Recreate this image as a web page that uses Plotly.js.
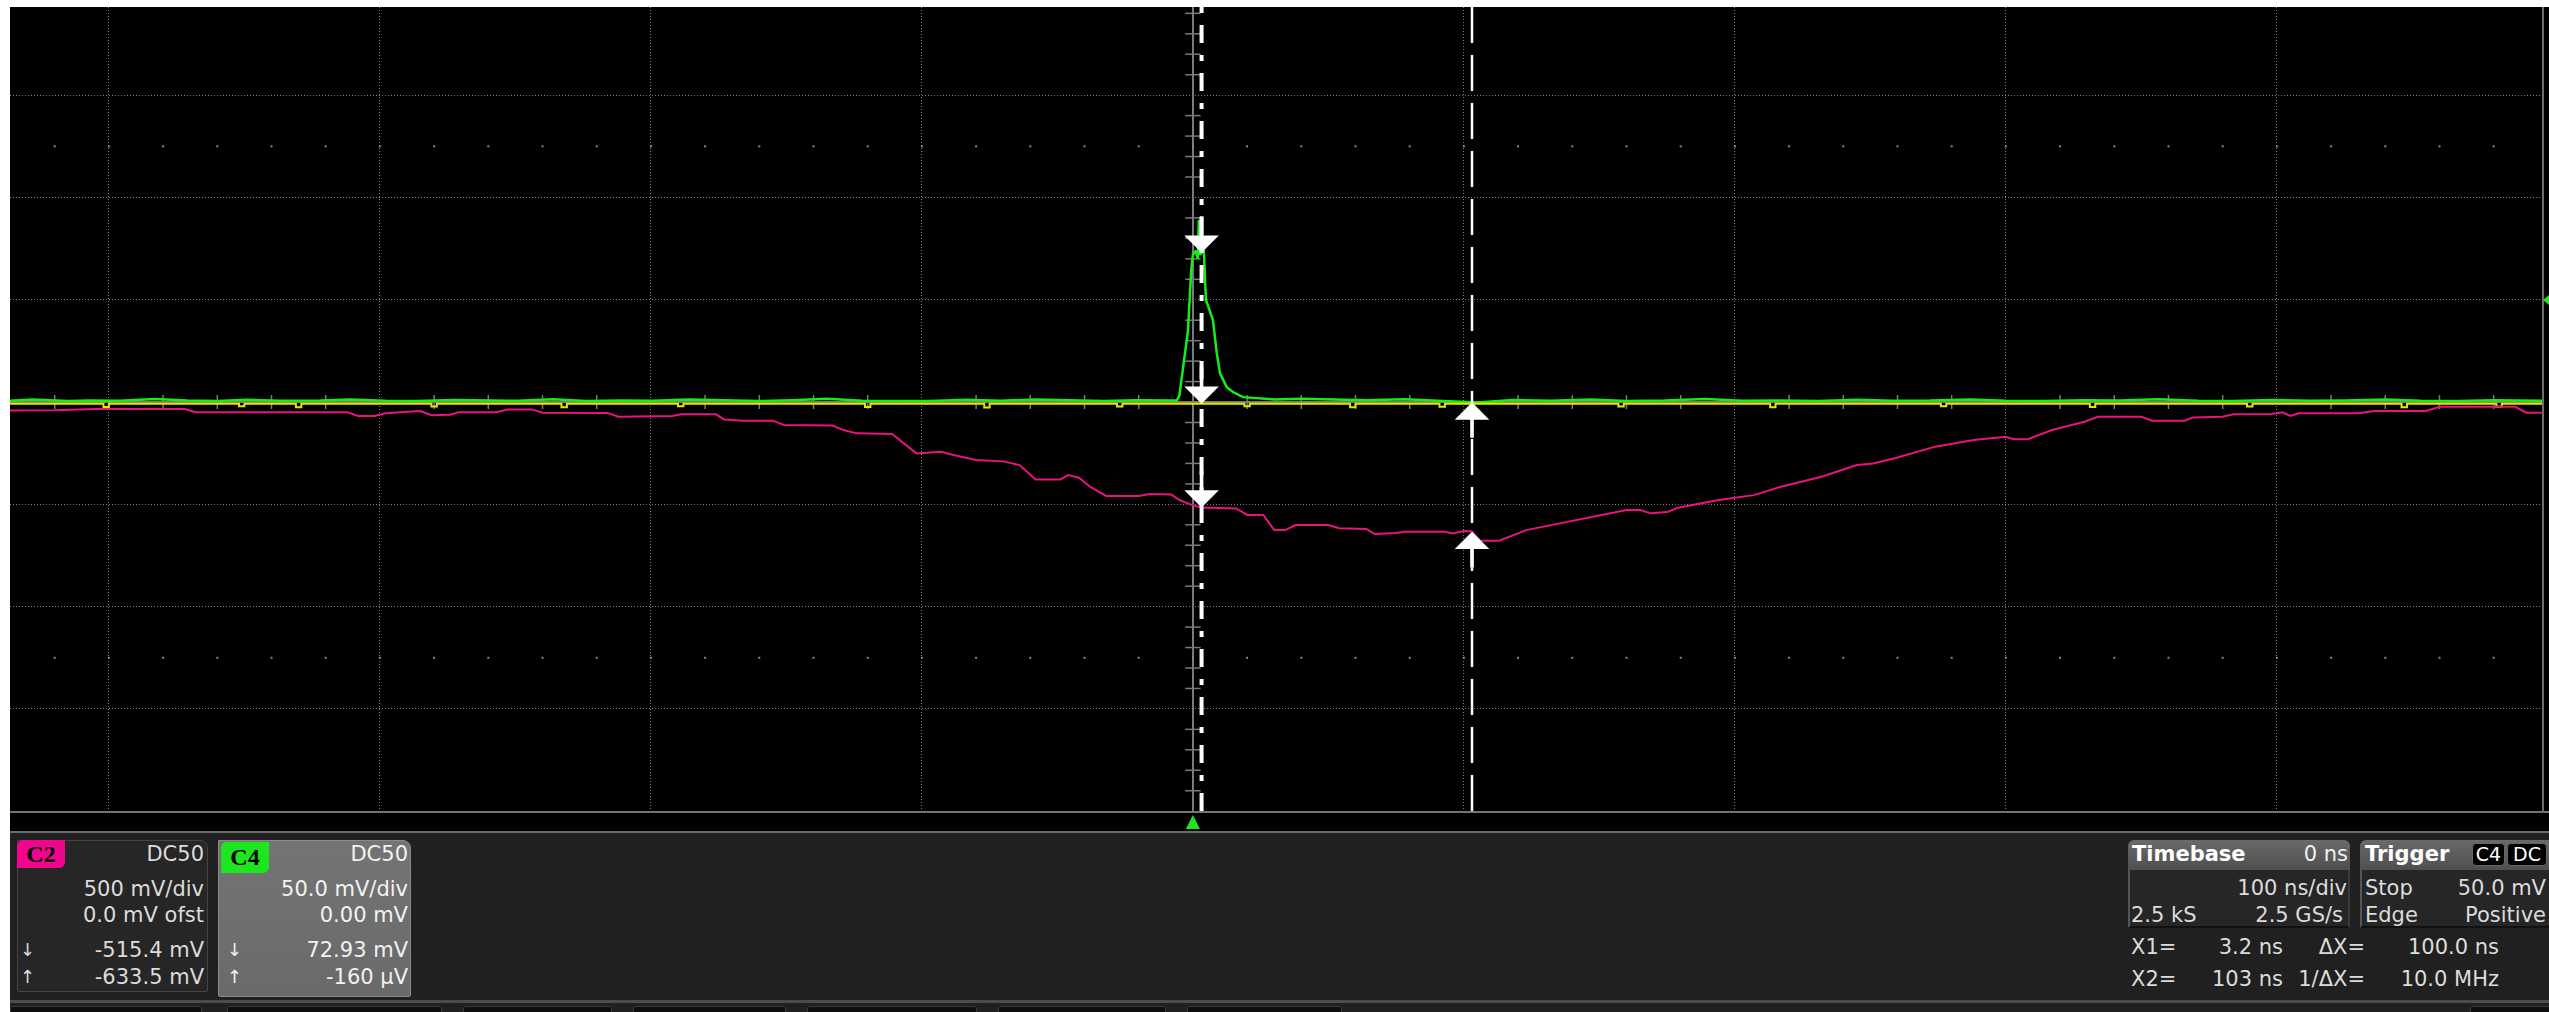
<!DOCTYPE html>
<html>
<head>
<meta charset="utf-8">
<script src="https://cdn.plot.ly/plotly-3.0.1.min.js"></script>
<style>
  html, body { margin:0; padding:0; background:#fff; width:2549px; height:1012px; overflow:hidden; }
  .abs { position:absolute; }
  #scr { left:10px; top:7px; width:2539px; height:825px; background:#000; }
  #bot { left:10px; top:832px; width:2539px; height:180px; background:#202020; }
  #plot { left:0; top:0; width:2549px; height:1012px; }
  #ov { left:0; top:0; width:2549px; height:1012px; pointer-events:none; z-index:5; }
</style>
</head>
<body>
<div id="scr" class="abs"></div>
<div id="bot" class="abs"></div>
<div id="plot" class="abs"></div>
<div id="ov" class="abs"></div>
<script>
// ---------------- DATA ----------------
// C2 (magenta), 500 mV/div, time in ns
const c2Time = [-436.5, -420, -405, -372, -368, -312, -308, -302, -298, -290, -285, -281, -274, -271, -257, -253, -244, -240, -216, -212,
  -192, -189, -176, -173, -166, -155, -151, -133, -129, -124, -111, -102, -93, -88, -80, -70, -64, -58, -49, -46, -42, -38, -32, -20, -16, -8, -5, 0, 3.2, 16, 20,
  26, 30, 34, 38, 50, 54, 64, 67, 75, 78, 93, 96, 100, 103, 106, 113, 123, 138, 148, 160, 165, 169, 175, 179, 194, 207, 217, 232, 245,
  251, 259, 274, 288, 300, 303, 308, 317, 329, 334, 350, 354, 366, 369, 380, 384, 398, 402, 405, 408, 430, 436, 455, 460, 488, 492, 498.2];
const c2mV = [-41, -40, -34, -34, -50, -50, -68, -68, -55, -48, -44, -64, -62, -50, -50, -36, -36, -52, -53, -72,
  -68, -60, -60, -85, -91, -91, -112, -115, -137, -153, -156, -251, -243, -260, -283, -290, -308, -378, -378, -357, -370, -414, -459, -459, -450, -452, -479, -505, -515, -520, -552,
  -552, -626, -626, -601, -601, -617, -620, -645, -640, -634, -634, -643, -630, -633, -678, -678, -626, -585, -561, -528, -528, -544, -538, -517, -479, -455, -414, -365, -308,
  -300, -275, -218, -186, -170, -182, -182, -137, -96, -72, -72, -91, -91, -75, -72, -60, -58, -50, -68, -55, -55, -44, -44, -23, -23, -52, -52];

// C4 (green), 50 mV/div
const c4Time = [-436.5, -428, -415, -407, -396, -383, -371, -360, -349, -337, -322, -311, -298, -286, -273, -262, -249, -236, -224, -211,
  -199, -186, -173, -160, -148, -135, -122, -109, -97, -84, -71, -58, -45, -33, -21, -12, -6,
  -5, -3.7, -1.8, -0.6, 0, 1, 1.8, 2.2, 2.6, 3.2, 4.0, 4.8, 6.3, 7.4, 8.8, 10, 12.5, 14.8, 18.5, 22, 30, 40, 52,
  64, 78, 91, 105, 118, 132, 147, 160, 174, 189, 203, 216, 231, 245, 258, 272, 287, 300, 314, 329, 342, 356, 371, 384, 398, 412, 425, 440, 453, 467, 480, 491, 498.2];
const c4mV = [0.6, 1.2, 0.5, 0.8, 0.6, 1.5, 0.7, 0.5, 1.1, 0.6, 0.8, 1.3, 0.6, 0.5, 1.0, 0.7, 0.6, 1.4, 0.5, 0.8,
  0.6, 1.2, 0.7, 0.5, 0.9, 1.6, 0.6, 0.7, 0.5, 1.1, 0.6, 1.3, 0.7, 0.5, 0.9, 0.6, 0.7,
  3, 16, 35, 65, 72, 74, 70, 89, 72, 73, 75, 50, 44, 40, 24, 14, 7.3, 4.9, 2.4, 2.0, 1.3, 1.6, 1.2,
  0.9, 1.4, 0.7, -0.2, 1.0, 0.6, 1.2, 0.5, 0.7, 1.5, 0.6, 0.8, 0.5, 1.1, 0.6, 0.7, 1.3, 0.6, 0.5, 0.9, 0.7, 1.4, 0.6, 0.5, 1.0, 0.6, 0.8, 1.2, 0.6, 0.5, 0.9, 0.7, 0.6];

// yellow trace (C1), flat baseline with small spikes
const c1Time = [-436.5, -402, -400, -352, -350, -331, -329, -281, -279, -233, -231, -190, -188, -121, -119, -77, -75, -28, -26, 19,
  21, 58, 60, 91, 93, 157, 159, 213, 215, 276, 278, 331, 333, 389, 391, 446, 448, 481, 483, 498.2];
const c1mV = [-0.8, -2.4, -0.8, -2.1, -0.8, -2.6, -0.8, -2.2, -0.8, -2.5, -0.8, -2.0, -0.8, -2.4, -0.8, -2.7, -0.8, -2.2, -0.8, -2.1,
  -0.8, -2.5, -0.8, -2.3, -0.8, -2.2, -0.8, -2.6, -0.8, -2.1, -0.8, -2.4, -0.8, -2.2, -0.8, -2.5, -0.8, -2.3, -0.8, -0.8];

// cursors (ns) and readouts
const cursorT = [3.2, 103];
const c2AtCursor = [-515.4, -633.5];
const c4AtCursor = [72.93, -0.16];
const c1AtCursor = [-0.8];

// readout panel texts
const c2Lines = ["DC50", "500 mV/div", "0.0 mV ofst", "-515.4 mV", "-633.5 mV"];
const c4Lines = ["DC50", "50.0 mV/div", "0.00 mV", "72.93 mV", "-160 µV"];
const timebaseLines = ["Timebase", "0 ns", "100 ns/div", "2.5 kS", "2.5 GS/s"];
const triggerLines = ["Trigger", "C4", "DC", "Stop", "50.0 mV", "Edge", "Positive"];
const cursorLabels = ["X1=", "3.2 ns", "ΔX=", "100.0 ns", "X2=", "103 ns", "1/ΔX=", "10.0 MHz"];

// ---------------- SCALES ----------------
const NS_PER_DIV = 100, C4_PER_DIV = 50, C2_PER_DIV = 500;
const xRange = [-436.5, 498.2];
const yDivRange = [-3.998, 3.862];
const PL = 10, PT = 7, PR = 2543, PB = 811;
const H = PB - PT;

const grey = '#7a7a7a';
const traces = [];
// graticule: tick marks on centre lines and dotted rows
const tx = [], ty = [];
for (let k = -21; k <= 24; k++) { if (k % 5 !== 0) { tx.push(k * NS_PER_DIV / 5); ty.push(0); } }
traces.push({x: tx, y: ty, mode:'markers', hoverinfo:'skip',
  marker:{symbol:'line-ns', size:10, line:{color:grey, width:1.5}}});
const vx = [], vy = [];
for (let k = -19; k <= 19; k++) { if (k % 5 !== 0) { vx.push(0); vy.push(k * C4_PER_DIV / 5); } }
traces.push({x: vx, y: vy, mode:'markers', hoverinfo:'skip',
  marker:{symbol:'line-ew', size:11, line:{color:grey, width:1.5}}});
const dx = [], dy = [];
for (let k = -21; k <= 24; k++) { dx.push(k * NS_PER_DIV / 5, k * NS_PER_DIV / 5); dy.push(2.5 * C4_PER_DIV, -2.5 * C4_PER_DIV); }
traces.push({x: dx, y: dy, mode:'markers', hoverinfo:'skip', marker:{symbol:'square', size:2, color:'#8a8a8a'}});

traces.push({name:'C2', x:c2Time, y:c2mV, yaxis:'y2', mode:'lines', line:{color:'#e8137d', width:2}, hoverinfo:'skip'});
traces.push({name:'C4', x:c4Time, y:c4mV, mode:'lines', line:{color:'#14f014', width:2.5}, hoverinfo:'skip'});
traces.push({name:'C1', x:c1Time, y:c1mV, mode:'lines', line:{color:'#e6e600', width:2, shape:'hv'}, hoverinfo:'skip'});

const py2paper = py => (PB - py) / H;
const shapes = [
  {type:'line', xref:'x', yref:'paper', x0:cursorT[0], x1:cursorT[0], y0:0, y1:1, layer:'above',
   line:{color:'#ffffff', width:4, dash:'18px,12px,6px,12px'}},
  {type:'line', xref:'x', yref:'paper', x0:cursorT[1], x1:cursorT[1], y0:0, y1:1, layer:'above',
   line:{color:'#ffffff', width:2.5, dash:'36px,12px'}},
  {type:'path', xref:'x', yref:'paper', layer:'above', fillcolor:'#1ee61e', line:{width:0},
   path:`M -2.6,${py2paper(829)} L 2.6,${py2paper(829)} L 0,${py2paper(815)} Z`}
];

function arrow(x, y, yref, down) {
  return {x:x, y:y, xref:'x', yref:yref, text:'', showarrow:true, arrowhead:1, arrowsize:1.6,
    arrowwidth:3.6, arrowcolor:'#ffffff', ax:0, ay: down ? -38 : 37, standoff:0};
}
const annotations = [
  arrow(cursorT[0], c4AtCursor[0], 'y', true),
  arrow(cursorT[0], c1AtCursor[0], 'y', true),
  arrow(cursorT[0], c2AtCursor[0], 'y2', true),
  arrow(cursorT[1], c4AtCursor[1], 'y', false),
  arrow(cursorT[1], c2AtCursor[1], 'y2', false)
];

const gridAxis = {showgrid:true, gridcolor:'#7c7c7c', gridwidth:1, griddash:'1px,2px',
  zeroline:true, zerolinecolor:grey, zerolinewidth:2, showticklabels:false, ticks:'', showline:false, fixedrange:true};

const layout = {
  width:2549, height:1012,
  margin:{l:PL, r:2549-PR, t:PT, b:1012-PB, pad:0},
  paper_bgcolor:'rgba(0,0,0,0)', plot_bgcolor:'#000000',
  showlegend:false,
  xaxis: Object.assign({range:xRange, tick0:0, dtick:NS_PER_DIV}, gridAxis),
  yaxis: Object.assign({range:[yDivRange[0]*C4_PER_DIV, yDivRange[1]*C4_PER_DIV], tick0:0, dtick:C4_PER_DIV}, gridAxis),
  yaxis2: {range:[yDivRange[0]*C2_PER_DIV, yDivRange[1]*C2_PER_DIV], overlaying:'y', showgrid:false, zeroline:false,
           showticklabels:false, ticks:'', showline:false, fixedrange:true},
  shapes: shapes,
  annotations: annotations
};
Plotly.newPlot('plot', traces, layout, {staticPlot:true, displayModeBar:false});

// ---------------- OVERLAY (frame + readout panels) ----------------
const ov = document.getElementById('ov');
function box(x, y, w, h, css) {
  const d = document.createElement('div');
  d.className = 'abs';
  Object.assign(d.style, {left:x+'px', top:y+'px', width:w+'px', height:h+'px'}, css || {});
  ov.appendChild(d); return d;
}
function txt(s, x, yc, o) {
  o = o || {};
  const d = document.createElement('div');
  d.className = 'abs';
  d.textContent = s;
  const size = o.size || 21;
  Object.assign(d.style, {whiteSpace:'pre', fontFamily: o.family || "'DejaVu Sans'", fontSize: size+'px',
    fontWeight: o.weight || 'normal', lineHeight:'26px', height:'26px', top:(yc-13)+'px', color: o.color || '#dcdcdc'});
  if (o.align === 'right') { d.style.left = (x-500)+'px'; d.style.width = '500px'; d.style.textAlign = 'right'; }
  else if (o.align === 'center') { d.style.left = (x-100)+'px'; d.style.width = '200px'; d.style.textAlign = 'center'; }
  else d.style.left = x+'px';
  ov.appendChild(d); return d;
}
// frame lines
box(10, 811, 2539, 2, {background:'#747474'});
box(2542, 7, 2, 805, {background:'#6c6c6c'});
box(10, 831, 2539, 2, {background:'#6c6c6c'});
box(10, 1000, 2539, 3, {background:'#4c4c4c'});
// trigger level marker at right edge
box(2543, 295, 0, 0, {borderTop:'5px solid transparent', borderBottom:'5px solid transparent', borderRight:'6px solid #1ee61e'});
// bottom tabs
[[10,200],[227,440],[463,610],[633,784],[807,975],[998,1164],[1187,1340],[2470,2549]].forEach(t =>
  box(t[0], 1006, t[1]-t[0], 8, {background:'#0e0e0e', border:'1px solid #3a3a3a', borderRadius:'3px 3px 0 0'}));

// C2 panel
box(17, 840, 191, 152, {background:'#262626', border:'1px solid #444', borderRadius:'0 8px 2px 2px', boxSizing:'border-box'});
box(17, 840, 48, 28, {background:'#f0058c', borderRadius:'6px 0 6px 0'});
txt('C2', 41, 854, {align:'center', family:"'Liberation Serif'", weight:'bold', size:24, color:'#000'});
const rowsY = [854, 889, 915, 950, 977];
txt(c2Lines[0], 204, rowsY[0], {align:'right'});
txt(c2Lines[1], 204, rowsY[1], {align:'right'});
txt(c2Lines[2], 204, rowsY[2], {align:'right'});
txt('↓', 20, rowsY[3], {size:18});
txt(c2Lines[3], 204, rowsY[3], {align:'right'});
txt('↑', 20, rowsY[4], {size:18});
txt(c2Lines[4], 204, rowsY[4], {align:'right'});

// C4 panel
box(218, 840, 193, 157, {background:'linear-gradient(#747474,#6a6a6a)', border:'1px solid #8a8a8a', borderRadius:'0 8px 2px 2px', boxSizing:'border-box'});
box(221, 842, 48, 31, {background:'#1ee61e', borderRadius:'6px 0 6px 0'});
txt('C4', 245, 857, {align:'center', family:"'Liberation Serif'", weight:'bold', size:24, color:'#000'});
txt(c4Lines[0], 408, rowsY[0], {align:'right', color:'#f2f2f2'});
txt(c4Lines[1], 408, rowsY[1], {align:'right', color:'#f2f2f2'});
txt(c4Lines[2], 408, rowsY[2], {align:'right', color:'#f2f2f2'});
txt('↓', 227, rowsY[3], {size:18, color:'#f2f2f2'});
txt(c4Lines[3], 408, rowsY[3], {align:'right', color:'#f2f2f2'});
txt('↑', 227, rowsY[4], {size:18, color:'#f2f2f2'});
txt(c4Lines[4], 408, rowsY[4], {align:'right', color:'#f2f2f2'});

// Timebase panel
box(2128, 840, 222, 30, {background:'linear-gradient(#6a6a6a,#4e4e4e)', borderRadius:'6px 6px 0 0'});
box(2128, 870, 222, 58, {background:'#262626', borderLeft:'2px solid #555', borderRight:'2px solid #3a3a3a', borderBottom:'2px solid #111', boxSizing:'border-box'});
txt(timebaseLines[0], 2132, 854, {weight:'bold', color:'#ffffff'});
txt(timebaseLines[1], 2348, 854, {align:'right', color:'#f0f0f0'});
txt(timebaseLines[2], 2347, 888, {align:'right'});
txt(timebaseLines[3], 2131, 915);
txt(timebaseLines[4], 2343, 915, {align:'right'});

// Trigger panel
box(2360, 840, 189, 30, {background:'linear-gradient(#6a6a6a,#4e4e4e)', borderRadius:'6px 0 0 0'});
box(2360, 870, 189, 58, {background:'#262626', borderLeft:'2px solid #555', borderBottom:'2px solid #111', boxSizing:'border-box'});
txt(triggerLines[0], 2365, 854, {weight:'bold', color:'#ffffff'});
box(2472, 843, 33, 23, {background:'#000', border:'1px solid #666', borderRadius:'4px', boxSizing:'border-box'});
box(2507, 843, 40, 23, {background:'#000', border:'1px solid #666', borderRadius:'4px', boxSizing:'border-box'});
txt(triggerLines[1], 2488.5, 854, {align:'center', size:19, color:'#fff'});
txt(triggerLines[2], 2527, 854, {align:'center', size:19, color:'#fff'});
txt(triggerLines[3], 2365, 888);
txt(triggerLines[4], 2546, 888, {align:'right'});
txt(triggerLines[5], 2365, 915);
txt(triggerLines[6], 2546, 915, {align:'right'});

// cursor readouts
txt(cursorLabels[0], 2131, 947);
txt(cursorLabels[1], 2283, 947, {align:'right'});
txt(cursorLabels[2], 2365, 947, {align:'right'});
txt(cursorLabels[3], 2499, 947, {align:'right'});
txt(cursorLabels[4], 2131, 979);
txt(cursorLabels[5], 2283, 979, {align:'right'});
txt(cursorLabels[6], 2365, 979, {align:'right'});
txt(cursorLabels[7], 2499, 979, {align:'right'});
</script>
</body>
</html>
